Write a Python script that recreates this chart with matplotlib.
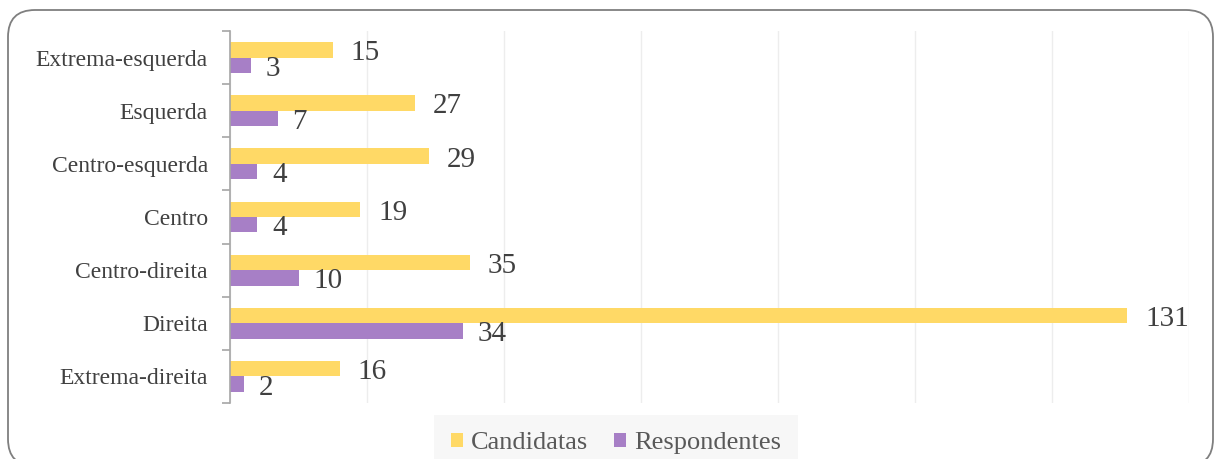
import numpy as np
import matplotlib.pyplot as plt
from matplotlib.patches import FancyBboxPatch

categories = ['Extrema-esquerda', 'Esquerda', 'Centro-esquerda', 'Centro',
              'Centro-direita', 'Direita', 'Extrema-direita']
candidatas = [15, 27, 29, 19, 35, 131, 16]
respondentes = [3, 7, 4, 4, 10, 34, 2]

yellow = '#FFD966'
purple = '#A77FC6'
text_col = '#404040'

plt.rcParams['font.family'] = ['Liberation Serif', 'DejaVu Serif']

fig = plt.figure(figsize=(12.17, 4.59), dpi=100)
ax = fig.add_axes([230 / 1217, 1 - 403 / 459, (1189 - 230) / 1217, (403 - 31) / 459])

# rounded frame round the whole chart (inches)
frame = FancyBboxPatch((0.08, -0.07), 12.05, 4.56,
                       boxstyle='round,pad=0,rounding_size=0.27',
                       transform=fig.dpi_scale_trans, fill=False,
                       edgecolor='#7F7F7F', linewidth=1.3)
fig.patches.append(frame)

y = np.arange(len(categories))
h = 0.29
ax.barh(y - h / 2, candidatas, height=h, color=yellow, label='Candidatas')
ax.barh(y + h / 2, respondentes, height=h, color=purple, label='Respondentes')

for yi, v in zip(y, candidatas):
    ax.annotate(str(v), (v, yi - h / 2), xytext=(13, -2.5), textcoords='offset points',
                va='center', ha='left', fontsize=21, color=text_col)
for yi, v in zip(y, respondentes):
    ax.annotate(str(v), (v, yi + h / 2), xytext=(10.5, -2.5), textcoords='offset points',
                va='center', ha='left', fontsize=21, color=text_col)

ax.set_xlim(0, 140)
ax.set_ylim(len(categories) - 0.5, -0.5)
ax.set_xticks(np.arange(0, 141, 20))
ax.set_xticklabels([])
ax.tick_params(axis='x', length=0)
ax.grid(axis='x', color='#EDEDED', linewidth=1)
ax.set_axisbelow(True)

ax.set_yticks(y)
ax.set_yticklabels(categories, fontsize=17, color=text_col)
ax.set_yticks(np.arange(-0.5, len(categories)), minor=True)
ax.tick_params(axis='y', which='major', length=0, pad=16)
ax.tick_params(axis='y', which='minor', length=6, color='#A6A6A6', width=1.2)

for side in ['top', 'right', 'bottom']:
    ax.spines[side].set_visible(False)
ax.spines['left'].set_color('#A6A6A6')
ax.spines['left'].set_linewidth(1.2)

leg = fig.legend(loc='lower center', bbox_to_anchor=(616 / 1217, -0.047), ncol=2,
                 frameon=True, fontsize=19, handlelength=0.45, handleheight=0.45,
                 handletextpad=0.3, columnspacing=1.0, borderpad=0.5)
leg.get_frame().set_facecolor('#F5F5F5')
leg.get_frame().set_edgecolor('none')
leg.get_frame().set_boxstyle('square', pad=0.15)
for t in leg.get_texts():
    t.set_color('#595959')

fig.savefig('out.png', dpi=100)
